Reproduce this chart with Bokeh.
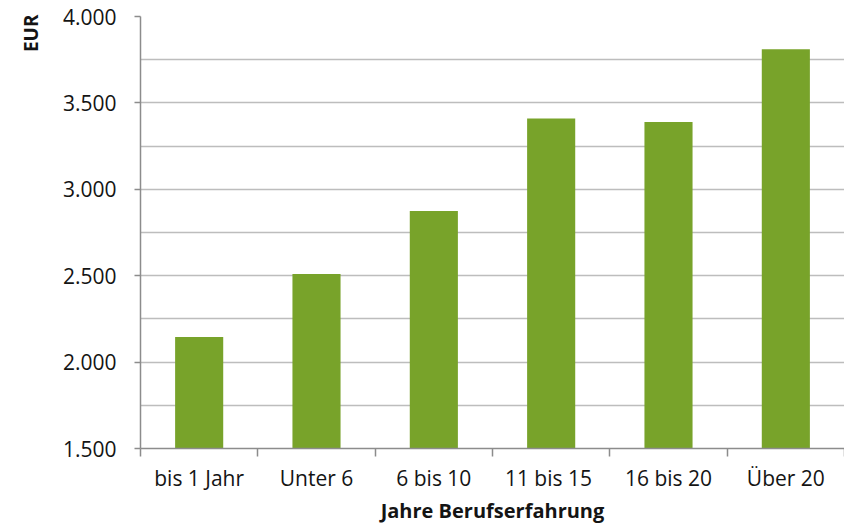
from bokeh.plotting import figure
from bokeh.models import FixedTicker, Range1d, Title, ColumnDataSource
from bokeh.embed import file_html
from bokeh.resources import INLINE

categories = ["bis 1 Jahr", "Unter 6", "6 bis 10", "11  bis 15", "16 bis 20", "Über 20"]
values = [2145, 2510, 2875, 3410, 3390, 3810]
y_ticks = [1500, 2000, 2500, 3000, 3500, 4000]
y_tick_labels = ["1.500", "2.000", "2.500", "3.000", "3.500", "4.000"]
y_minor = [1750, 2250, 2750, 3250, 3750]

FONT = "Open Sans"
TXT = "#141414"
AX = "#8c8c8c"
n = len(categories)
xc = [i + 0.5 for i in range(n)]
src = ColumnDataSource(dict(x=xc, top=values))

p = figure(width=844, height=528, output_backend="svg", toolbar_location=None,
           x_range=Range1d(0, n), y_range=Range1d(1500, 4000),
           min_border_left=140, min_border_top=16, min_border_bottom=80, min_border_right=0)
p.outline_line_color = None
p.background_fill_color = "white"

p.vbar(x="x", top="top", bottom=1500, width=0.41, source=src, color="#78A32A", line_color=None)

# y axis
p.yaxis.ticker = FixedTicker(ticks=y_ticks, minor_ticks=y_minor)
p.yaxis.major_label_overrides = {t: l for t, l in zip(y_ticks, y_tick_labels)}
p.yaxis.major_tick_out = 6
p.yaxis.major_tick_in = 0
p.yaxis.minor_tick_out = 0
p.yaxis.minor_tick_in = 0
p.yaxis.major_label_standoff = 18
p.yaxis.axis_line_color = AX
p.yaxis.axis_line_width = 1.5
p.yaxis.major_tick_line_color = AX
p.yaxis.major_tick_line_width = 1.5
p.yaxis.major_label_text_font = FONT
p.yaxis.major_label_text_font_size = "21px"
p.yaxis.major_label_text_color = TXT

# x axis
p.xaxis.ticker = FixedTicker(ticks=xc, minor_ticks=list(range(n + 1)))
p.xaxis.major_label_overrides = {x: c for x, c in zip(xc, categories)}
p.xaxis.major_tick_out = 0
p.xaxis.major_tick_in = 0
p.xaxis.minor_tick_out = 8
p.xaxis.minor_tick_in = 0
p.xaxis.minor_tick_line_color = AX
p.xaxis.minor_tick_line_width = 1.5
p.xaxis.axis_line_color = AX
p.xaxis.axis_line_width = 1.5
p.xaxis.major_label_standoff = 7
p.xaxis.major_label_text_font = FONT
p.xaxis.major_label_text_font_size = "21px"
p.xaxis.major_label_text_color = TXT
p.xaxis.axis_label = "Jahre Berufserfahrung"
p.xaxis.axis_label_text_font = FONT
p.xaxis.axis_label_text_font_style = "bold"
p.xaxis.axis_label_text_font_size = "20px"
p.xaxis.axis_label_standoff = 2
p.xaxis.axis_label_text_color = TXT

p.xgrid.grid_line_color = None
p.ygrid.ticker = FixedTicker(ticks=y_ticks, minor_ticks=y_minor)
p.ygrid.grid_line_color = "#bdbdbd"
p.ygrid.grid_line_width = 1.5
p.ygrid.minor_grid_line_color = "#bdbdbd"
p.ygrid.minor_grid_line_width = 1.5

# "EUR" label at the top of the left side
eur = Title(text="EUR", align="right", text_font=FONT, text_font_style="bold",
            text_font_size="19px", text_color=TXT, offset=-2, standoff=31)
p.add_layout(eur, "left")

open("out.html", "w").write(file_html(p, INLINE))
